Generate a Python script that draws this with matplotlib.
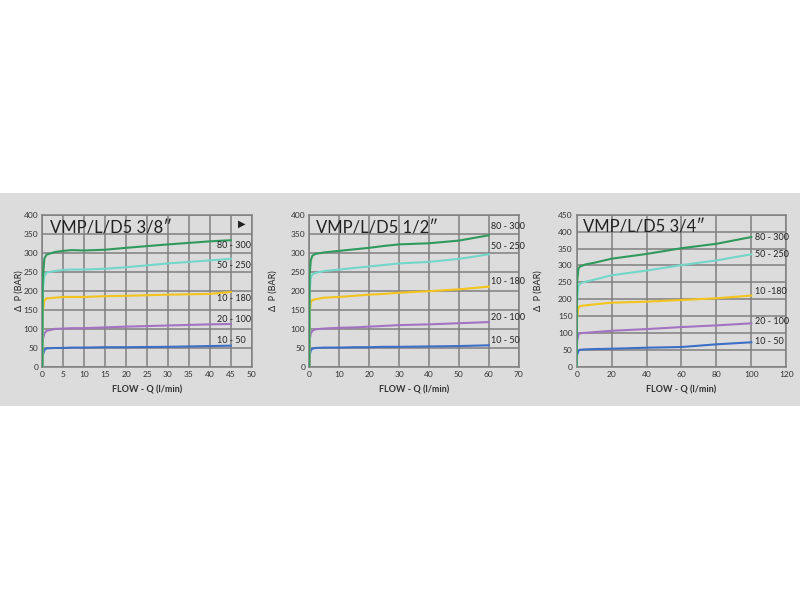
#!/usr/bin/env python3
# coding=utf-8
# Curve di perdita di carico VMP/L/D5 (3/8", 1/2", 3/4")
import matplotlib
matplotlib.use("Agg")
import matplotlib.pyplot as plt
from matplotlib.patches import Rectangle

plt.rcParams['font.family'] = ['Lato', 'DejaVu Sans']

# ----------------------------------------------------------------------------------------------------
# dati
titles  = ["VMP/L/D5 3/8\u2033", "VMP/L/D5 1/2\u2033", "VMP/L/D5 3/4\u2033"]
labels  = [["80 - 300", "50 - 250", "10 - 180", "20 - 100", "10 - 50"],
           ["80 - 300", "50 - 250", "10 - 180", "20 - 100", "10 - 50"],
           ["80 - 300", "50 - 250", "10 -180", "20 - 100", "10 - 50"]]
colors  = ["#2f9a5c", "#72d6c9", "#f3c41a", "#a472c2", "#3c6fc6"]

x_38 = [0, 0.1, 0.5, 1, 3, 5, 7, 10, 15, 20, 30, 40, 45]
y_38 = [[0, 230, 285, 295, 302, 305, 307, 306, 308, 313, 322, 330, 333],
        [0, 200, 240, 248, 252, 255, 256, 256, 258, 262, 272, 280, 284],
        [0, 140, 175, 180, 182, 184, 184, 184, 186, 187, 190, 192, 197],
        [0, 70, 88, 95, 100, 101, 102, 102, 104, 106, 109, 112, 113],
        [0, 30, 45, 49, 50, 50, 51, 51, 52, 52, 53, 55, 56]]

x_12 = [0, 0.1, 0.5, 1, 2, 5, 10, 15, 20, 25, 30, 40, 50, 60]
y_12 = [[0, 240, 280, 292, 297, 301, 305, 309, 313, 318, 322, 325, 332, 346],
        [0, 200, 235, 243, 247, 252, 256, 260, 264, 268, 272, 276, 284, 296],
        [0, 140, 170, 176, 178, 182, 184, 187, 190, 192, 195, 199, 204, 211],
        [0, 70, 88, 95, 99, 101, 103, 104, 106, 108, 110, 112, 115, 118],
        [0, 30, 44, 48, 50, 51, 51, 52, 52, 53, 53, 54, 55, 57]]

x_34 = [0, 0.2, 1, 2, 5, 10, 20, 40, 60, 80, 100]
y_34 = [[0, 250, 292, 297, 303, 308, 320, 334, 351, 364, 384],
        [0, 200, 240, 247, 252, 258, 271, 285, 301, 315, 333],
        [0, 145, 176, 180, 182, 185, 190, 193, 198, 203, 211],
        [0, 75, 96, 100, 101, 103, 107, 112, 118, 123, 129],
        [0, 35, 48, 51, 52, 53, 54, 57, 59, 67, 73]]

xs      = [x_38, x_12, x_34]
ys      = [y_38, y_12, y_34]
xmax    = [50, 70, 120]
xstep   = [5, 10, 20]
ymax    = [400, 400, 450]
label_x = [41.8, 60.6, 102.2]
label_y = [[318, 267, 179, 126, 70],
           [368, 317, 225, 129, 70],
           [382, 331, 224, 133, 74]]
title_pos = [(1.8, 365), (2.1, 365), (3.8, 411)]
ylabpad   = [0, 9, 11]

# ----------------------------------------------------------------------------------------------------
bg   = "#dcdcdd"
grid = "#808080"
fig  = plt.figure(figsize=(8, 6), dpi=100)
band = Rectangle((0, 1 - 406 / 600), 1, 213 / 600, transform=fig.transFigure,
                 facecolor=bg, edgecolor="none", zorder=-10)
fig.add_artist(band)

lefts = [42.3, 309.3, 576.7]
for i in range(3):
    ax = fig.add_axes([lefts[i] / 800, 1 - 367 / 600, 209.5 / 800, 152.3 / 600])
    ax.set_facecolor(bg)
    ax.set_xlim(0, xmax[i])
    ax.set_ylim(0, ymax[i])
    ax.set_xticks(range(0, xmax[i] + 1, xstep[i]))
    ax.set_yticks(range(0, ymax[i] + 1, 50))
    ax.grid(True, color=grid, linewidth=1.1)
    ax.set_axisbelow(True)
    for s in ax.spines.values():
        s.set_color(grid)
        s.set_linewidth(1.1)
    ax.tick_params(length=0, pad=3, labelsize=6, colors="#333333")
    # curve, verde per ultima (sopra)
    for j in reversed(range(5)):
        ax.plot(xs[i], ys[i][j], color=colors[j], linewidth=1.5, zorder=3)
    for j in range(5):
        ax.text(label_x[i], label_y[i][j], labels[i][j], fontsize=6.5, color="#222222",
                va="center", ha="left", zorder=4)
    ax.text(title_pos[i][0], title_pos[i][1], titles[i], fontsize=12, color="#222222",
            va="center", ha="left", zorder=4)
    ax.set_xlabel("FLOW - Q (l/min)", fontsize=6.5, fontweight="bold", color="#333333",
                  labelpad=5)
    ax.set_ylabel("\u0394  P (BAR)", fontsize=6.5, color="#222222", labelpad=ylabpad[i])

# freccia nel primo grafico
fig.axes[0].text(47.5, 375, "\u25b6", fontsize=7, color="#222222", ha="center", va="center",
                 family="DejaVu Sans")

fig.savefig("out.png", dpi=100)
